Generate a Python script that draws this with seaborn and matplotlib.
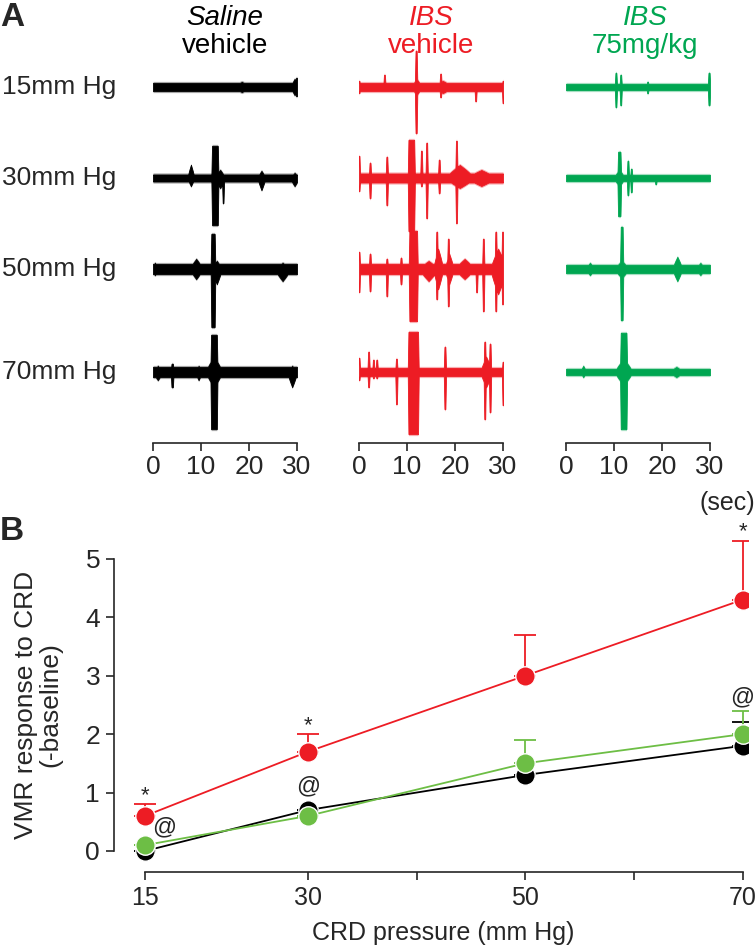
import numpy as np
import pandas as pd
import matplotlib
matplotlib.use("Agg")
import matplotlib.pyplot as plt
import seaborn as sns

sns.set_style("ticks")
plt.rcParams["font.family"] = ["Liberation Sans", "DejaVu Sans"]

# ---------------- data ----------------
# Panel A: EMG traces described as events
# event = (time_s, half_width_s, up_amplitude_px, down_amplitude_px)
groups_A = ["Saline vehicle", "IBS vehicle", "IBS 75mg/kg"]
pressures_A = ["15mm Hg", "30mm Hg", "50mm Hg", "70mm Hg"]

black15_base = 4
black15 = [(18.5, 1.5, 5, 5), (29.5, 0.4, 8, 8), (29.9, 0.1, 9, 9)]
black30_base = 3.5
black30 = [(7.9, 0.3, 13, 8), (12.9, 0.6, 32, 47), (14.6, 0.08, 2, 25), (14.0, 0.6, 8, 10),
           (22.6, 0.4, 7, 12), (29.5, 0.5, 5, 8)]
black50_base = 5
black50 = [(0.4, 0.4, 6, 6), (9.0, 0.9, 10, 10), (12.5, 0.35, 35, 58), (13.3, 0.6, 8, 15),
           (27.0, 1.2, 6, 12)]
black70_base = 5
black70 = [(1.0, 0.6, 6, 8), (4.0, 0.15, 8, 15), (9.5, 0.3, 6, 8), (12.7, 0.6, 37, 57),
           (12.7, 1.3, 15, 15), (29.0, 0.6, 6, 15)]

red15_base = 4
red15 = [(0.0, 0.1, 6, 6), (5.3, 0.1, 12, 3), (11.9, 0.12, 36, 46), (12.0, 0.6, 8, 8),
         (17.0, 0.1, 13, 10), (17.5, 1.5, 6, 6), (24.3, 0.1, 4, 14), (30.0, 0.1, 6, 16)]
red30_base = 4.5
red30 = [(0.0, 0.1, 22, 13), (2.3, 0.1, 15, 20), (5.8, 0.1, 21, 27), (10.9, 0.6, 38, 53),
         (13.0, 0.1, 27, 8), (14.1, 0.1, 35, 40), (16.7, 0.1, 18, 15), (21.0, 2.5, 13, 10),
         (20.3, 0.1, 37, 45), (25.5, 2.5, 8, 8)]
red50_base = 5
red50 = [(0.0, 0.1, 17, 23), (2.3, 0.1, 15, 22), (5.8, 0.1, 10, 27), (8.75, 0.1, 11, 15),
         (11.3, 0.8, 38, 52), (14.5, 1.5, 8, 12), (16.2, 0.1, 37, 30), (16.5, 0.6, 20, 20),
         (18.6, 0.1, 30, 37), (18.8, 0.5, 15, 15), (22.0, 1.5, 10, 10), (24.5, 0.1, 5, 23),
         (25.9, 0.1, 30, 42), (29.0, 1.2, 20, 25), (28.5, 0.1, 37, 42), (29.9, 0.1, 37, 35)]
red70_base = 4
red70 = [(0.0, 0.1, 14, 8), (2.0, 0.1, 20, 15), (3.0, 0.1, 12, 6), (3.7, 0.1, 12, 6),
         (7.8, 0.1, 13, 32), (11.3, 1.0, 40, 62), (17.9, 0.1, 25, 37), (26.5, 0.8, 15, 15),
         (26.2, 0.1, 30, 47), (27.3, 0.1, 28, 40), (30.0, 0.1, 10, 33)]

green15_base = 3
green15 = [(10.4, 0.1, 14, 20), (11.4, 0.1, 12, 18), (17.0, 0.1, 5, 6), (29.8, 0.12, 14, 18)]
green30_base = 3
green30 = [(11.1, 0.25, 26, 38), (11.1, 0.7, 8, 8), (12.9, 0.1, 17, 17), (13.6, 0.1, 9, 14),
           (18.7, 0.1, 2, 6)]
green50_base = 4
green50 = [(5.0, 0.5, 6, 6), (11.6, 0.2, 42, 51), (11.6, 1.0, 8, 9), (23.2, 0.6, 12, 12),
           (28.0, 0.5, 6, 6)]
green70_base = 3
green70 = [(3.6, 0.2, 6, 5), (12.0, 0.6, 39, 57), (12.0, 1.4, 13, 13), (23.0, 1.0, 5, 5)]

traces = [
    [(black15_base, black15), (black30_base, black30), (black50_base, black50), (black70_base, black70)],
    [(red15_base, red15), (red30_base, red30), (red50_base, red50), (red70_base, red70)],
    [(green15_base, green15), (green30_base, green30), (green50_base, green50), (green70_base, green70)],
]
time_ticks = [0, 10, 20, 30]

# Panel B: VMR data
pressure = [15, 30, 50, 70]
saline_mean = [0.0, 0.7, 1.3, 1.8]
saline_err = [0.0, 0.0, 0.0, 0.4]
ibs75_mean = [0.1, 0.6, 1.5, 2.0]
ibs75_err = [0.0, 0.0, 0.4, 0.4]
ibsveh_mean = [0.6, 1.7, 3.0, 4.3]
ibsveh_err = [0.2, 0.3, 0.7, 1.0]
x_ticks_B = [15, 30, 40, 50, 60, 70]
x_ticklabels_B = ["15", "30", "", "50", "", "70"]
y_ticks_B = [0, 1, 2, 3, 4, 5]

# ---------------- style ----------------
BLACK = "#000000"
RED = "#ED1C24"
GREEN_A = "#00A651"
GREEN_B = "#6DBE45"
colors_A = [BLACK, RED, GREEN_A]

W, H = 756, 947
fig = plt.figure(figsize=(W / 100, H / 100), dpi=100)


def fig_rect(left_px, top_px, right_px, bottom_px):
    return [left_px / W, 1 - bottom_px / H, (right_px - left_px) / W, (bottom_px - top_px) / H]


# ---------------- Panel A ----------------
col_zero_px = [153, 359, 566]
px_per_s = 4.8
axis_y_px = 443
top_px = 35
row_centers = [87, 178, 269, 372]
t_lo, t_hi = -1.5, 31.5
tgrid = np.arange(0.0, 30.0001, 0.01)
taper = 0.15


def envelope(base, events):
    up = np.full_like(tgrid, float(base))
    dn = np.full_like(tgrid, float(base))
    for (t0, w, a_up, a_dn) in events:
        d = np.abs(tgrid - t0)
        if w <= 0.15 or max(a_up, a_dn) >= 30:
            # sharp spike / blocky main burst
            f = np.clip(1 - (d - w) / taper, 0, 1)
        else:
            # spindle-shaped small burst
            f = np.clip(1 - d / (w + 0.4), 0, 1) ** 0.8
        up = np.maximum(up, a_up * f)
        dn = np.maximum(dn, a_dn * f)
    return up, dn


for ci in range(3):
    left = col_zero_px[ci] + t_lo * px_per_s
    right = col_zero_px[ci] + t_hi * px_per_s
    ax = fig.add_axes(fig_rect(left, top_px, right, axis_y_px))
    ax.set_xlim(t_lo, t_hi)
    ax.set_ylim(axis_y_px, top_px)
    for ri in range(4):
        base, events = traces[ci][ri]
        up, dn = envelope(base, events)
        yc = row_centers[ri]
        # soft fuzzy halo, then solid core
        ax.fill_between(tgrid, yc - up - 1.6, yc + dn + 1.6, color=colors_A[ci], alpha=0.35,
                        linewidth=0, clip_on=False)
        ax.fill_between(tgrid, yc - up, yc + dn, color=colors_A[ci], linewidth=0.6,
                        edgecolor=colors_A[ci], clip_on=False)
    for s in ["left", "right", "top"]:
        ax.spines[s].set_visible(False)
    ax.spines["bottom"].set_bounds(0, 30)
    ax.spines["bottom"].set_linewidth(1.2)
    ax.set_yticks([])
    ax.set_xticks(time_ticks)
    ax.set_xticklabels([str(t) for t in time_ticks], fontsize=19)
    ax.tick_params(axis="x", direction="out", length=6, width=1.2, pad=3)
    ax.patch.set_alpha(0)

# headers
fig.text(225 / W, 1 - 18 / H, "Saline", fontsize=20, style="italic", color=BLACK, ha="center", va="center")
fig.text(225 / W, 1 - 46 / H, "vehicle", fontsize=20, color=BLACK, ha="center", va="center")
fig.text(431 / W, 1 - 18 / H, "IBS", fontsize=20, style="italic", color=RED, ha="center", va="center")
fig.text(431 / W, 1 - 46 / H, "vehicle", fontsize=20, color=RED, ha="center", va="center")
fig.text(645 / W, 1 - 18 / H, "IBS", fontsize=20, style="italic", color=GREEN_A, ha="center", va="center")
fig.text(645 / W, 1 - 46 / H, "75mg/kg", fontsize=20, color=GREEN_A, ha="center", va="center")
for ri, lab in enumerate(pressures_A):
    fig.text(2 / W, 1 - row_centers[ri] / H, lab, fontsize=19, ha="left", va="center")
fig.text(0 / W, 1 - 18 / H, "A", fontsize=24, fontweight="bold", ha="left", va="center")
fig.text(727 / W, 1 - 503 / H, "(sec)", fontsize=18, ha="center", va="center")

# ---------------- Panel B ----------------
fig.text(0 / W, 1 - 531 / H, "B", fontsize=24, fontweight="bold", ha="left", va="center")
axB = fig.add_axes(fig_rect(114, 515, 748, 872))
axB.set_xlim(12.14, 70.5)
axB.set_ylim(-0.36, 5.75)

df = pd.DataFrame({
    "pressure": pressure * 3,
    "response": saline_mean + ibs75_mean + ibsveh_mean,
    "group": ["Saline vehicle"] * 4 + ["IBS 75mg/kg"] * 4 + ["IBS vehicle"] * 4,
})
hue_order = ["Saline vehicle", "IBS 75mg/kg", "IBS vehicle"]
palette = {"Saline vehicle": BLACK, "IBS 75mg/kg": GREEN_B, "IBS vehicle": RED}

# upper-only error bars drawn beneath markers
for mean, err, col in [(saline_mean, saline_err, BLACK), (ibs75_mean, ibs75_err, GREEN_B),
                       (ibsveh_mean, ibsveh_err, RED)]:
    axB.errorbar(pressure, mean, yerr=[np.zeros(4), err], fmt="none", ecolor=col,
                 elinewidth=1.3, capsize=8, capthick=1.3, zorder=1)

sns.lineplot(data=df, x="pressure", y="response", hue="group", hue_order=hue_order,
             palette=palette, marker="o", markersize=14, markeredgecolor="white",
             markeredgewidth=1.0, linewidth=1.3, legend=False, ax=axB, zorder=3)

# significance marks
axB.text(15, 0.95, "*", fontsize=16, ha="center", va="center")
axB.text(30, 2.15, "*", fontsize=16, ha="center", va="center")
axB.text(70, 5.47, "*", fontsize=16, ha="center", va="center")
axB.text(16.8, 0.4, "@", fontsize=17, ha="center", va="center")
axB.text(30, 1.1, "@", fontsize=17, ha="center", va="center")
axB.text(70, 2.62, "@", fontsize=17, ha="center", va="center")

sns.despine(ax=axB)
axB.spines["left"].set_bounds(0, 5)
axB.spines["bottom"].set_bounds(15, 70)
for s in ["left", "bottom"]:
    axB.spines[s].set_linewidth(1.2)
axB.set_xticks(x_ticks_B)
axB.set_xticklabels(x_ticklabels_B, fontsize=18)
axB.set_yticks(y_ticks_B)
axB.set_yticklabels([str(v) for v in y_ticks_B], fontsize=19)
axB.tick_params(axis="both", direction="out", length=6, width=1.2, pad=4)
axB.set_xlabel("CRD pressure (mm Hg)", fontsize=18)
axB.set_ylabel("VMR response to CRD\n(-baseline)", fontsize=19, linespacing=1.0)
axB.xaxis.set_label_coords((443 - 114) / (748 - 114), -(933 - 872) / (872 - 515), transform=axB.transAxes)
axB.yaxis.set_label_coords(-(114 - 38) / (748 - 114), (872 - 705) / (872 - 515), transform=axB.transAxes)
axB.xaxis.label.set_va("center")
axB.yaxis.label.set_va("center")

fig.savefig("out.png", dpi=100)
